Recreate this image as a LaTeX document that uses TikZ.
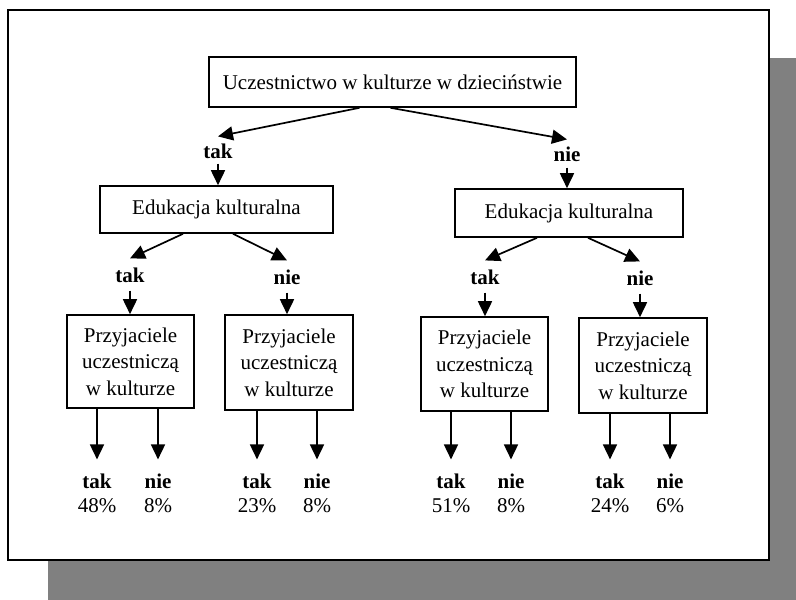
\documentclass[tikz,border=0pt]{standalone}
\usepackage{fontspec}
\setmainfont{Liberation Serif}
\usetikzlibrary{arrows.meta}
\begin{document}
\begin{tikzpicture}[x=1pt,y=-1pt,
  every node/.style={font=\fontsize{21}{26.5}\selectfont},
  boxn/.style={draw,line width=1.6pt,inner sep=0pt,align=center},
  lbl/.style={inner sep=0pt,font=\fontsize{21}{26.5}\selectfont\bfseries},
  pct/.style={inner sep=0pt},
  arr/.style={line width=1.7pt,-{Triangle[width=14pt,length=15pt]}}]
\useasboundingbox (0,0) rectangle (796,600);
% shadow and frame
\fill[black!50] (48,58) rectangle (796,600);
\draw[fill=white,line width=1.8pt] (8,10) rectangle (769,560);
% top
\node[boxn,minimum width=367pt,minimum height=50pt] (top) at (392.5,82) {Uczestnictwo w kulturze w dzieciństwie};
\node[lbl] (tak0) at (218,151) {tak};
\node[lbl] (nie0) at (567,154) {nie};
\draw[arr] ([xshift=-33pt]top.south) -- ([yshift=7pt]tak0.north);
\draw[arr] ([xshift=-2pt]top.south) -- ([yshift=7pt]nie0.north);
% education
\node[boxn,minimum width=233pt,minimum height=47pt] (eduL) at (216.5,209.5) {Edukacja kulturalna};
\node[boxn,minimum width=228pt,minimum height=48pt] (eduR) at (569,213) {Edukacja kulturalna};
\draw[arr] ([yshift=-5pt]tak0.south) -- (tak0.south |- eduL.north);
\draw[arr] ([yshift=-6pt]nie0.south) -- (nie0.south |- eduR.north);
% second level labels
\node[lbl] (t1) at (130,275) {tak};
\node[lbl] (n1) at (287,277) {nie};
\node[lbl] (t2) at (485,277) {tak};
\node[lbl] (n2) at (640,278) {nie};
\draw[arr] ([xshift=-33.5pt]eduL.south) -- ([yshift=9pt]t1.north);
\draw[arr] ([xshift=16.5pt]eduL.south) -- ([yshift=9pt]n1.north);
\draw[arr] ([xshift=-32pt]eduR.south) -- ([yshift=9pt]t2.north);
\draw[arr] ([xshift=19pt]eduR.south) -- ([yshift=9pt]n2.north);
% friends boxes
\node[boxn,minimum width=127pt,minimum height=93pt] (b1) at (130.5,361.5) {Przyjaciele\\uczestniczą\\w kulturze};
\node[boxn,minimum width=128pt,minimum height=95pt] (b2) at (289,362.5) {Przyjaciele\\uczestniczą\\w kulturze};
\node[boxn,minimum width=127pt,minimum height=94pt] (b3) at (484.5,364) {Przyjaciele\\uczestniczą\\w kulturze};
\node[boxn,minimum width=128pt,minimum height=95pt] (b4) at (643,365.5) {Przyjaciele\\uczestniczą\\w kulturze};
\draw[arr] ([yshift=-8pt]t1.south) -- (t1.south |- b1.north);
\draw[arr] ([yshift=-8pt]n1.south) -- (n1.south |- b2.north);
\draw[arr] ([yshift=-8pt]t2.south) -- (t2.south |- b3.north);
\draw[arr] ([yshift=-8pt]n2.south) -- (n2.south |- b4.north);
% bottom labels
\foreach \nm/\x/\t/\p in {a1/97/tak/48\%, a2/158/nie/8\%, a3/257/tak/23\%, a4/317/nie/8\%,
                          a5/451/tak/51\%, a6/511/nie/8\%, a7/610/tak/24\%, a8/670/nie/6\%}{
  \node[lbl] (\nm) at (\x,481) {\t};
  \node[pct] (\nm p) at (\x,506) {\p};
}
\foreach \b/\l in {b1/a1,b1/a2,b2/a3,b2/a4,b3/a5,b3/a6,b4/a7,b4/a8}{
  \draw[arr] (\l |- \b.south) -- ([yshift=14pt]\l.north);
}
\end{tikzpicture}
\end{document}
